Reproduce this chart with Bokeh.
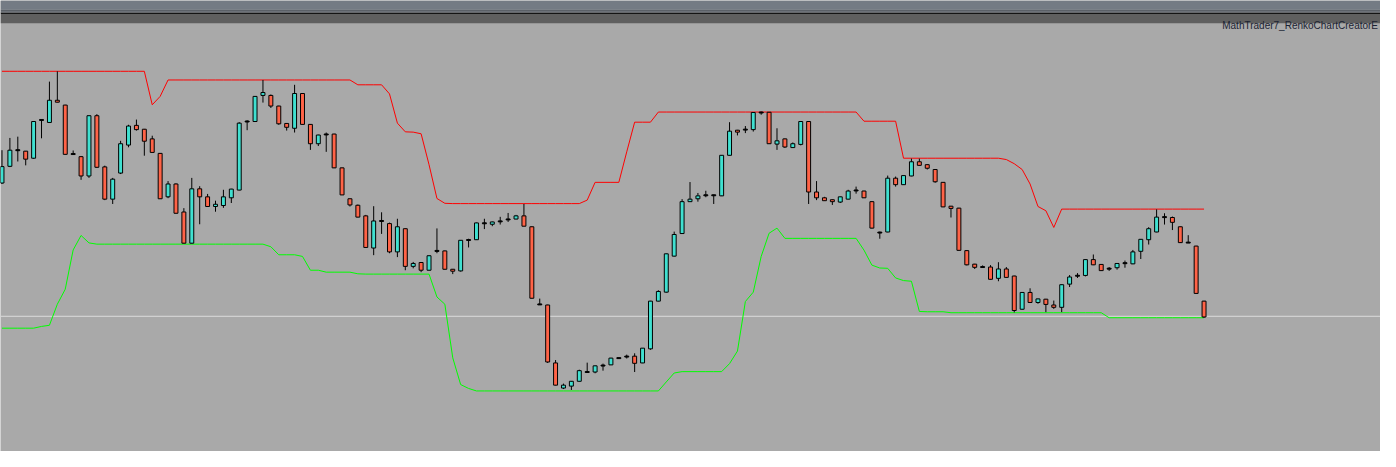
import numpy as np
from bokeh.plotting import figure
from bokeh.models import Range1d, Span, BoxAnnotation, Label, ColumnDataSource
from bokeh.embed import file_html
from bokeh.resources import INLINE

# ---------------- data (price levels) ----------------
open_ = [
    278, 295.3, 312, 311, 303.7, 343.3, 340.7, 363.7, 358.7, 308,
    305.3, 285.3, 347.7, 294.7, 261.3, 288.3, 317.3, 337.7, 333.7, 323.7,
    308.7, 263.7, 277, 248, 215.7, 272, 263.7, 253.7, 254.7, 262.7,
    270.7, 341.7, 341.7, 368.7, 368.7, 357.7, 339.7, 334.7, 370.7, 338.7,
    318.7, 328.3, 328.7, 293.7, 261.7, 255, 244, 210.7, 238.7, 236,
    206.7, 230.7, 191.7, 195.7, 187.7, 207.7, 207.7, 188.7, 187, 219,
    219.3, 236.3, 235.3, 238.3, 240.3, 240.7, 244, 232.7, 152.3, 151.7,
    91.7, 65.7, 67.7, 72.7, 82.3, 82.3, 89, 89.7, 96.7, 98.3,
    98.7, 91.7, 106.3, 155.7, 165, 202.3, 225.7, 258.7, 261.7, 265.3,
    265.3, 264.7, 306.7, 332.7, 333.3, 333.3, 351, 351.3, 318.3, 323.7,
    314.7, 318, 341.7, 268.7, 262.7, 260.7, 258.3, 261.3, 270.3, 269.7,
    258.7, 226.7, 227.3, 283, 276.3, 285.3, 300, 297, 292, 278.7,
    254, 252, 208, 194, 191, 191, 179.3, 189, 181.7, 147.3,
    164.7, 154.3, 157.7, 151.7, 149.3, 173.3, 182, 182.3, 198.7, 193.7,
    189.3, 190.3, 195, 194.3, 207.3, 219.3, 227.3, 242.7, 242.3, 232.7,
    216.3, 212.7, 155.7,
]
high = [
    312, 324.7, 326, 311, 342, 344, 383, 393.7, 359, 311.7,
    306, 348, 349.3, 296, 283.3, 321.7, 338.3, 343.7, 334, 327,
    309, 280, 277.7, 252, 283.3, 274.7, 266.7, 259.7, 271, 272,
    341, 343, 368, 384.7, 369.7, 358, 340, 379.7, 371, 339,
    328, 330.3, 329, 294, 262, 255.7, 245, 254, 247.7, 237,
    241, 231, 196.3, 196, 203, 231, 208, 189, 219, 220.3,
    237, 241, 238, 243, 247, 245, 256.3, 233, 158.3, 152,
    94.7, 70.3, 73, 84.7, 92, 89, 91, 97, 97, 100.3,
    101.7, 107, 156, 167, 205, 227.7, 261.3, 279, 267.7, 270,
    266, 307, 341, 333, 337, 351.3, 352, 351.5, 334.7, 324,
    320, 342, 342, 280, 263.7, 261, 264, 271, 274.3, 270,
    259, 227.7, 285.7, 284.7, 286, 303.3, 303.3, 297.3, 292.3, 279,
    254.3, 252.3, 208.3, 194.3, 192.7, 193, 196, 191, 182, 165,
    169, 158.3, 158, 156.3, 173, 182.7, 184.7, 199, 204, 194,
    191, 195, 197.7, 208.7, 220, 232.3, 250.7, 246.7, 243.3, 233,
    224, 213, 156,
]
low = [
    277, 294.5, 300.3, 296.3, 303, 324.3, 340.5, 361.5, 307.5, 307.5,
    281.3, 283.3, 293.7, 260.3, 256.3, 287.3, 315, 332.3, 306.3, 309.5,
    261.5, 262.3, 246.5, 215.5, 215.5, 235.3, 253.5, 248.3, 252.3, 257.3,
    270.5, 332.7, 341.5, 361.3, 355.7, 338.3, 332.3, 330.3, 338.5, 312.3,
    316.3, 310.3, 293.5, 265.5, 253.7, 242.5, 211, 203.3, 225.3, 205.3,
    201.3, 187.7, 189.7, 185.7, 187.5, 205.3, 188.5, 183.7, 186.3, 211.3,
    219, 230.3, 233.3, 235, 237.7, 240.5, 233.3, 158.5, 152, 91.7,
    68.5, 64.7, 63.7, 72.5, 82, 81, 83.7, 89.5, 96.3, 96.3,
    82.3, 91.5, 105.3, 155.5, 164.5, 202, 225.5, 258.5, 258.7, 263.3,
    256.3, 264.5, 306.5, 327.3, 329.7, 331.3, 348.7, 318.5, 312.3, 314.3,
    314.5, 317, 256.3, 260.3, 259.5, 255.3, 257.3, 261, 267, 262.5,
    231, 220.3, 227, 274.3, 276, 285, 296, 292, 278.3, 253,
    242.3, 208, 192.7, 189, 190.7, 178, 176.3, 180, 144, 147,
    154, 153, 144.3, 147.7, 144.3, 170.3, 179.7, 181.3, 193, 187,
    187, 188.3, 190.3, 194, 199.3, 214.3, 227, 235, 229.3, 216,
    216, 163.5, 138.3,
]
close = [
    295, 312, 312, 302.7, 341.7, 343.3, 363.7, 361.7, 307.7, 308,
    285.3, 347.7, 294.3, 261.3, 282, 318.7, 337, 333.3, 321.3, 309.7,
    261.7, 277, 246.7, 215.7, 272, 263.7, 253.7, 256, 263.7, 271.7,
    340, 341.7, 367.7, 371.7, 357.7, 339.3, 335.7, 370.7, 338.7, 318.7,
    327.7, 328.3, 293.7, 265.7, 255.3, 242.7, 211.3, 238.7, 238.7, 206.7,
    232.7, 191.7, 194.7, 187.7, 202.7, 207.7, 188.7, 186.7, 218.7, 219,
    236.7, 236.3, 237.7, 238.3, 240.3, 244, 233.3, 158.7, 152.3, 92.7,
    68.7, 68.7, 72.7, 83.7, 82.3, 88.7, 89, 96.7, 96.7, 98.3,
    91.3, 107, 155.7, 165.7, 204.7, 224.7, 258.7, 261.3, 264.7, 265.3,
    265.3, 306.7, 331.7, 330.7, 333.3, 351, 351, 318.7, 321.7, 315.3,
    318.7, 341.7, 268.7, 262.7, 259.7, 258.7, 263.7, 269.7, 270.3, 262.7,
    231.3, 226.7, 283, 276.3, 285.7, 300, 296.3, 293.3, 279.3, 253.3,
    251.7, 208.3, 193.3, 190.7, 191, 178.3, 189, 180.3, 146, 164.7,
    154.3, 158, 152.3, 149.3, 172.7, 180.7, 182, 198.7, 193.3, 187.3,
    189.3, 194.7, 195, 206.7, 219.7, 230.7, 242.7, 242.7, 237.3, 216.3,
    216.3, 163.7, 139.3,
]
upper_band = [
    393.7, 393.7, 393.7, 393.7, 393.7, 393.7, 393.7, 393.7, 393.7, 393.7,
    393.7, 393.7, 393.7, 393.7, 393.7, 393.7, 393.7, 393.7, 393.7, 359,
    367.7, 384.7, 384.7, 384.7, 384.7, 384.7, 384.7, 384.7, 384.7, 384.7,
    384.7, 384.7, 384.7, 384.7, 384.7, 384.7, 384.7, 384.7, 384.7, 384.7,
    384.7, 384.7, 384.7, 384.7, 384.7, 379.7, 379.7, 379.7, 379.7, 370.3,
    340, 331, 330.7, 329, 297, 262, 257, 256.7, 256.7, 256.7,
    256.7, 256.7, 256.7, 256.7, 256.7, 256.7, 256.7, 256.7, 256.7, 256.7,
    256.7, 256.7, 256.7, 256.7, 260.3, 278.7, 278.7, 278.7, 278.7, 310.3,
    341, 341, 341, 351.5, 351.5, 351.5, 351.5, 351.5, 351.5, 351.5,
    351.5, 351.5, 351.5, 351.5, 351.5, 351.5, 351.5, 351.5, 351.5, 351.5,
    351.5, 351.5, 351.5, 351.5, 351.5, 351.5, 351.5, 351.5, 351.5, 342,
    342, 342, 342, 342, 303.7, 303.7, 303.7, 303.7, 303.7, 303.7,
    303.7, 303.7, 303.7, 303.7, 303.7, 303.7, 303.7, 302.3, 298, 292,
    277, 253.7, 249.3, 232, 251, 251, 251, 251, 251, 251,
    251, 251, 251, 251, 251, 251, 251, 251, 251, 251,
    251, 251, 251,
]
lower_band = [
    127.7, 127.7, 127.7, 127.7, 127.7, 129.5, 130.7, 152.5, 168, 208.7,
    223.7, 216, 214.7, 214.7, 214.7, 214.7, 214.7, 214.7, 214.7, 214.7,
    214.7, 214.7, 214.7, 214.7, 214.7, 214.7, 214.7, 214.7, 214.7, 214.7,
    214.7, 214.7, 214.7, 214.7, 212, 203.7, 203.7, 203.7, 202, 187.7,
    187.7, 185.7, 185.7, 185.7, 185.7, 184, 183.7, 183.7, 183.7, 183.7,
    183.7, 183.7, 183.7, 183.7, 183.7, 160, 152.5, 97, 69.3, 65.3,
    62.7, 62.7, 62.7, 62.7, 62.7, 62.7, 62.7, 62.7, 62.7, 62.7,
    62.7, 62.7, 62.7, 62.7, 62.7, 62.7, 62.7, 62.7, 62.7, 62.7,
    62.7, 62.7, 62.7, 62.7, 72, 81.3, 82.7, 82.7, 82.7, 82.7,
    82.7, 82.7, 91, 104, 155.3, 165, 202, 226, 231.3, 220.7,
    220.7, 220.7, 220.7, 220.7, 220.7, 220.7, 220.7, 220.7, 220.7, 208.5,
    193, 190, 189.7, 179.7, 177, 176.3, 145, 144.7, 144.7, 144.7,
    143.7, 143.7, 143.7, 143.7, 143.7, 143.7, 143.7, 143.7, 143.7, 143.7,
    143.7, 143.7, 143.7, 143.7, 143.7, 143.7, 143.7, 143.7, 143.7, 143.7,
    138.5, 138.5, 138.5, 138.5, 138.5, 138.5, 138.5, 138.5, 138.5, 138.5,
    138.5, 138.5, 138.5,
]
reference_level = 140
symbol_caption = "MathTrader7_RenkoChartCreatorE"

# ---------------- styling ----------------
BG = "#a9a9a9"
BULL = "#40e0d0"
BEAR = "#ff6347"

o = np.array(open_, dtype=float)
c = np.array(close, dtype=float)
bar = np.arange(len(o))
btop = np.maximum(o, c)
bbot = np.minimum(o, c)
mid = (btop + bbot) / 2
thin = (btop - bbot) < 1.0
btop = np.where(thin, mid + 0.5, btop)
bbot = np.where(thin, mid - 0.5, bbot)
fill = np.where(c > o, BULL, np.where(c < o, BEAR, "#000000"))

src = ColumnDataSource(dict(x=bar, high=high, low=low, top=btop, bottom=bbot, fill=fill))

# the frame shows the whole chart window
p = figure(width=1380, height=451,
           x_range=Range1d(-0.1875, 174.3125), y_range=Range1d(0, 467),
           x_axis_location=None, y_axis_location=None,
           output_backend="svg", toolbar_location=None, min_border=0,
           background_fill_color=BG, border_fill_color=BG,
           outline_line_color=None)
p.xgrid.visible = False
p.ygrid.visible = False

# window chrome strip at the top
for b, t, col in [(443.5, 453, "#5f5f5f"), (453, 454.5, "#141414"),
                  (454.5, 456, "#6c7178"), (456, 457.5, "#5b6067"),
                  (457.5, None, "#747b84")]:
    p.add_layout(BoxAnnotation(bottom=b, top=t, fill_color=col, fill_alpha=1.0,
                               line_color=None, level="underlay"))

p.add_layout(Span(location=reference_level, dimension="width",
                  line_color="#dcdcdc", line_width=1, level="underlay"))

p.line(bar, upper_band, line_color="#ff0000", line_width=1)
p.line(bar, lower_band, line_color="#00ff00", line_width=1)

p.segment(x0="x", y0="high", x1="x", y1="low", source=src,
          line_color="#000000", line_width=1)
p.vbar(x="x", top="top", bottom="bottom", width=0.5, source=src,
       fill_color="fill", line_color="#000000", line_width=1)

p.add_layout(Label(x=174.0, y=441.0, text=symbol_caption,
                   text_font="Liberation Sans", text_font_size="10px",
                   text_color="#1b2333", text_align="right",
                   text_baseline="alphabetic"))

open("out.html", "w").write(file_html(p, INLINE))
